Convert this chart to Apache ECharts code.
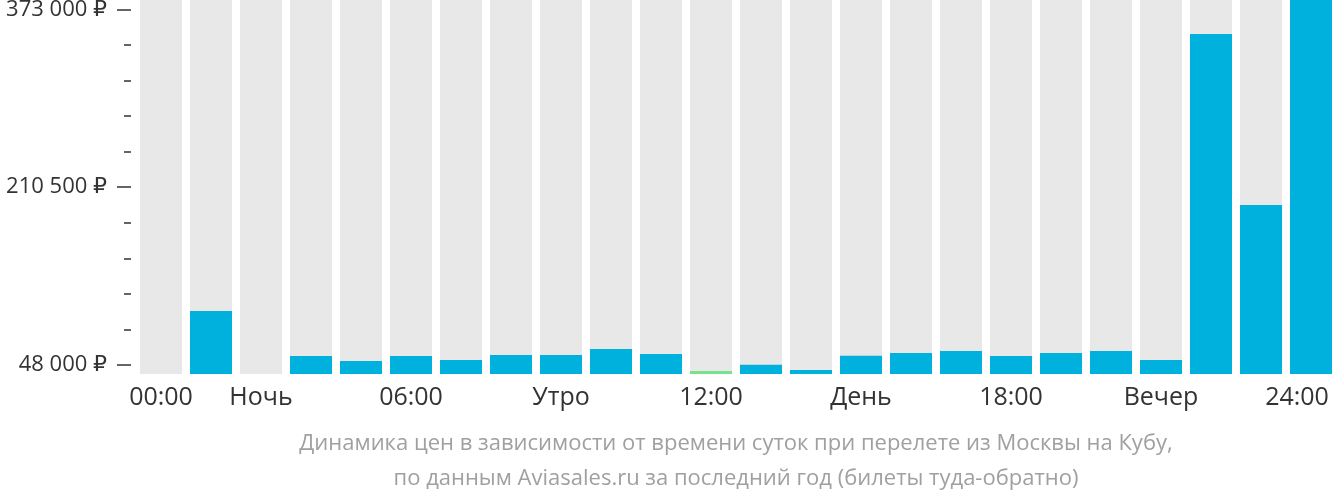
<!DOCTYPE html>
<html>
<head>
<meta charset="utf-8">
<script src="https://cdn.jsdelivr.net/npm/echarts@6/dist/echarts.min.js"></script>
<style>
html,body{margin:0;padding:0;background:#fff;}
#chart{width:1332px;height:502px;}
</style>
</head>
<body>
<div id="chart"></div>
<script>
// ---- data ----
const hours = ['00','01','02','03','04','05','06','07','08','09','10','11','12','13','14','15','16','17','18','19','20','21','22','23'];
const hourLabels = ['00:00','','Ночь','','','06:00','','','Утро','','','12:00','','','День','','','18:00','','','Вечер','','','24:00'];
const prices = [null, 97400, null, 56200, 51700, 56200, 52600, 57100, 57100, 62600, 58000, 42500, 48300, 43400, 56500, 59000, 60800, 56200, 59000, 60800, 52600, 350500, 194200, 381500];
const cheapestIndex = 11;
const yMin = 39800;
const yMax = 381500;
const yTickStart = 48000;
const yTickEnd = 373000;
const yTickStep = 162500;
const captionLine1 = 'Динамика цен в зависимости от времени суток при перелете из Москвы на Кубу,';
const captionLine2 = 'по данным Aviasales.ru за последний год (билеты туда-обратно)';

// ---- chart ----
const FONT = '"Open Sans", "DejaVu Sans", sans-serif';
function fmtRub(v) {
  return String(Math.round(v)).replace(/\B(?=(\d{3})+(?!\d))/g, ' ') + ' ₽';
}
const chart = echarts.init(document.getElementById('chart'), null, {renderer: 'canvas'});
const lastIdx = hours.length - 1;
const option = {
  animation: false,
  textStyle: {fontFamily: FONT},
  grid: [
    {left: 136, top: 0, width: 1200, height: 374, containLabel: false, outerBoundsMode: 'none'},
    {left: 131, top: 9.3, width: 10, height: 355.7, containLabel: false, outerBoundsMode: 'none'}
  ],
  xAxis: [
    {
      gridIndex: 0, type: 'category', data: hours,
      axisLine: {show: false}, axisTick: {show: false},
      axisLabel: {
        interval: 0, margin: 11, color: '#333', fontSize: 25, fontFamily: FONT,
        hideOverlap: false,
        formatter: function (val, idx) {
          const t = hourLabels[idx];
          if (!t) return '';
          return idx === lastIdx ? '{last|' + t + '}' : t;
        },
        rich: {last: {fontSize: 25, fontFamily: FONT, color: '#333', padding: [0, 28, 0, 0]}}
      }
    },
    {gridIndex: 1, type: 'value', show: false, min: 0, max: 1}
  ],
  yAxis: [
    {gridIndex: 0, type: 'value', min: yMin, max: yMax, show: false},
    {
      gridIndex: 1, type: 'value', min: 0, max: yTickEnd - yTickStart, interval: yTickStep,
      axisLine: {show: false},
      splitLine: {show: false},
      axisTick: {show: true, length: 14, lineStyle: {color: '#333', width: 1.5}},
      minorTick: {show: true, splitNumber: 5, length: 7, lineStyle: {color: '#333', width: 1.5}},
      axisLabel: {
        margin: 24, color: '#333', fontSize: 22, fontFamily: FONT,
        formatter: function (v) { return fmtRub(v + yTickStart); }
      }
    }
  ],
  series: [
    {
      type: 'bar', xAxisIndex: 0, yAxisIndex: 0,
      data: hours.map(function () { return yMax; }),
      barCategoryGap: '16%', barGap: '-100%',
      itemStyle: {color: '#e8e8e8'}, silent: true, z: 1
    },
    {
      type: 'bar', xAxisIndex: 0, yAxisIndex: 0,
      data: prices.map(function (v, i) {
        if (v === null) return '-';
        return i === cheapestIndex ? {value: v, itemStyle: {color: '#77e38b'}} : v;
      }),
      barCategoryGap: '16%', barGap: '-100%',
      itemStyle: {color: '#00b1dd'}, z: 2
    }
  ],
  graphic: [
    {
      type: 'text', x: 736, y: 444,
      style: {text: captionLine1, fill: '#a0a0a0', font: '22px ' + FONT, textAlign: 'center', textVerticalAlign: 'middle'}
    },
    {
      type: 'text', x: 736, y: 479,
      style: {text: captionLine2, fill: '#a0a0a0', font: '22px ' + FONT, textAlign: 'center', textVerticalAlign: 'middle'}
    }
  ]
};
chart.setOption(option);
</script>
</body>
</html>
